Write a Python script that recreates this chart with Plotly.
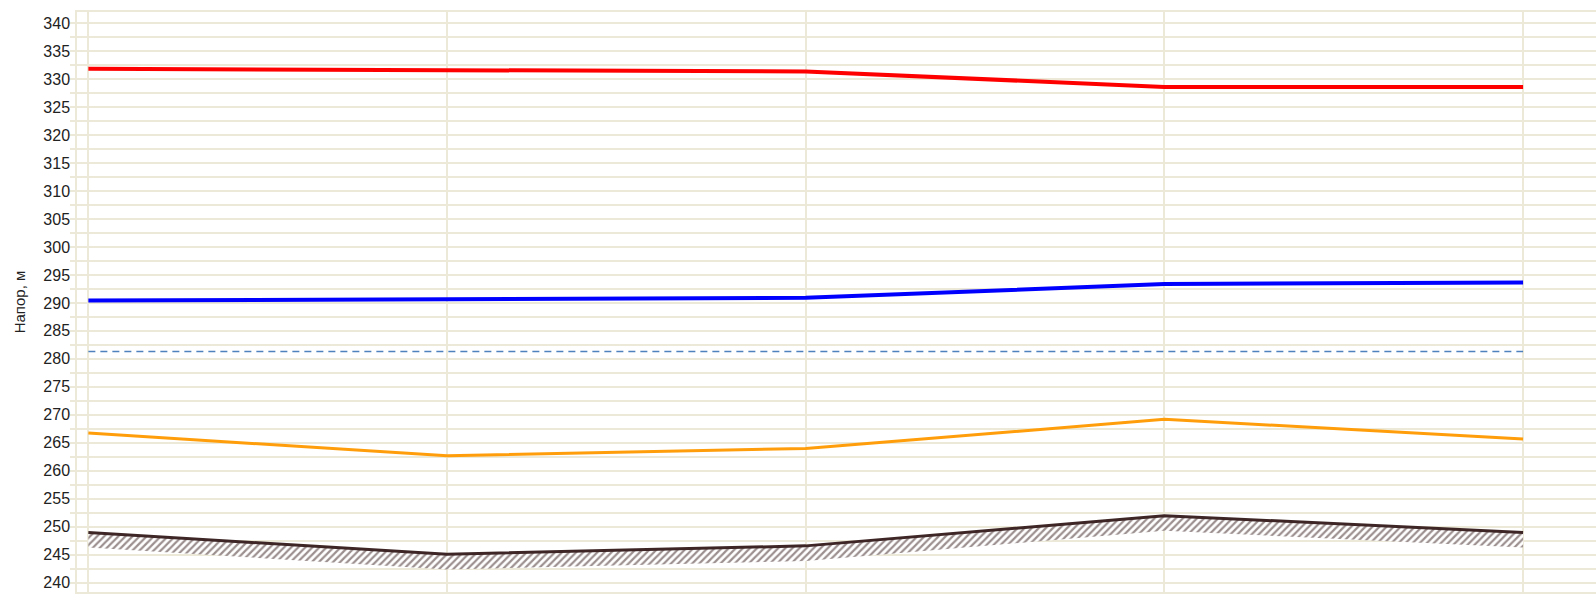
import plotly.graph_objects as go

# hours of the day (breakpoints of the piecewise series)
hours = [0, 6, 12, 18, 24]
red_head = [331.82, 331.57, 331.33, 328.58, 328.58]
blue_head = [290.42, 290.66, 290.90, 293.38, 293.64]
orange_head = [266.75, 262.70, 264.00, 269.20, 265.70]
ground = [249.0, 245.1, 246.6, 252.0, 249.0]
dashed_level = [281.3, 281.3, 281.3, 281.3, 281.3]
hatch_depth = 2.7

GRID = "#ECE9D8"

fig = go.Figure()

fig.add_trace(go.Scatter(x=hours, y=dashed_level, mode="lines",
                         line=dict(color="#4F81BD", width=1.5, dash="7px,5px"),
                         hoverinfo="skip", showlegend=False))

# hatched band under the ground line
fig.add_trace(go.Scatter(x=hours, y=[g - hatch_depth for g in ground], mode="lines",
                         line=dict(width=0, color="rgba(0,0,0,0)"),
                         hoverinfo="skip", showlegend=False))
fig.add_trace(go.Scatter(x=hours, y=ground, mode="lines", fill="tonexty",
                         fillcolor="rgba(0,0,0,0)",
                         fillpattern=dict(shape="/", fgcolor="#3a2020", bgcolor="white",
                                          size=5, solidity=0.45),
                         line=dict(color="#3E2626", width=3),
                         showlegend=False))

fig.add_trace(go.Scatter(x=hours, y=orange_head, mode="lines",
                         line=dict(color="#FF9E0A", width=3), showlegend=False))
fig.add_trace(go.Scatter(x=hours, y=blue_head, mode="lines",
                         line=dict(color="#0000FF", width=4), showlegend=False))
fig.add_trace(go.Scatter(x=hours, y=red_head, mode="lines",
                         line=dict(color="#FF0000", width=4), showlegend=False))

fig.update_layout(
    width=1596, height=596,
    margin=dict(l=77, r=0, t=12, b=4),
    paper_bgcolor="white", plot_bgcolor="white",
    font=dict(family="Liberation Sans, Arial, sans-serif", size=16, color="#222222"),
    xaxis=dict(range=[-0.19, 25.22], tick0=0, dtick=6, showgrid=True, gridcolor=GRID,
               gridwidth=1.5, showticklabels=False, zeroline=False, ticks="",
               showline=True, mirror=True, linecolor=GRID, linewidth=1.5),
    yaxis=dict(range=[238.36, 341.96], tick0=0, dtick=5, showgrid=True, gridcolor=GRID,
               gridwidth=1.5, zeroline=False, ticks="outside", ticklen=5, tickcolor=GRID,
               tickwidth=1.5, showline=True, linecolor=GRID, linewidth=1.5,
               automargin=False, ticklabelstandoff=-3,
               minor=dict(dtick=2.5, showgrid=True, gridcolor=GRID, gridwidth=1.5,
                          ticks="outside", ticklen=5, tickcolor=GRID, tickwidth=1.5),
               title=dict(text="Напор, м", font=dict(size=15, color="#222222"), standoff=14)),
)

fig.write_html("out.html", config={"displayModeBar": False},
               post_script="document.body.style.margin='0';document.body.style.overflow='hidden';")
